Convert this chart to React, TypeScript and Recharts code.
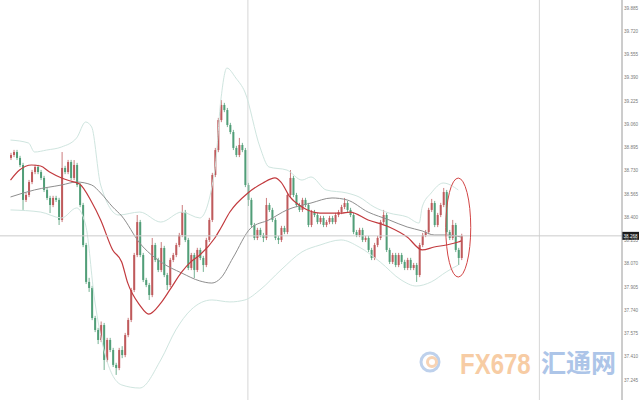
import React from 'react';
import {
  ComposedChart,
  Bar,
  Line,
  XAxis,
  YAxis,
  ReferenceLine,
  ReferenceDot,
} from 'recharts';

// candles: [open, high, low, close], one per slot starting at FIRST_SLOT
const candles: [number, number, number, number][] = [
  [38.821, 38.857, 38.806, 38.842], [38.842, 38.878, 38.827, 38.863], [38.863, 38.878, 38.806, 38.821],
  [38.821, 38.836, 38.756, 38.771], [38.771, 38.786, 38.452, 38.523], [38.523, 38.573, 38.508, 38.558],
  [38.558, 38.665, 38.543, 38.65], [38.65, 38.736, 38.635, 38.721], [38.721, 38.772, 38.706, 38.757],
  [38.757, 38.772, 38.706, 38.721], [38.721, 38.736, 38.664, 38.679], [38.679, 38.694, 38.579, 38.594],
  [38.594, 38.609, 38.522, 38.537], [38.537, 38.552, 38.43, 38.487], [38.487, 38.552, 38.472, 38.537],
  [38.537, 38.552, 38.508, 38.523], [38.523, 38.538, 38.345, 38.381], [38.381, 38.863, 38.366, 38.75],
  [38.75, 38.765, 38.706, 38.721], [38.721, 38.807, 38.706, 38.792], [38.792, 38.807, 38.664, 38.679],
  [38.679, 38.806, 38.664, 38.771], [38.771, 38.786, 38.614, 38.629], [38.629, 38.644, 38.472, 38.487],
  [38.487, 38.502, 38.188, 38.203], [38.203, 38.218, 37.926, 37.941], [37.941, 37.97, 37.87, 37.898],
  [37.898, 37.913, 37.67, 37.685], [37.685, 37.7, 37.585, 37.6], [37.6, 37.615, 37.5, 37.529],
  [37.529, 37.66, 37.514, 37.635], [37.635, 37.65, 37.316, 37.387], [37.387, 37.544, 37.372, 37.529],
  [37.529, 37.544, 37.443, 37.458], [37.458, 37.473, 37.337, 37.352], [37.352, 37.367, 37.281, 37.33],
  [37.33, 37.473, 37.315, 37.458], [37.458, 37.485, 37.4, 37.422], [37.422, 37.579, 37.407, 37.564],
  [37.564, 37.686, 37.549, 37.671], [37.671, 37.899, 37.656, 37.884], [37.884, 38.147, 37.869, 38.132],
  [38.132, 38.416, 38.117, 38.366], [38.366, 38.381, 38.117, 38.132], [38.132, 38.147, 37.94, 37.955],
  [37.955, 37.97, 37.904, 37.919], [37.919, 37.934, 37.813, 37.848], [37.848, 38.253, 37.833, 38.203],
  [38.203, 38.218, 38.082, 38.097], [38.097, 38.112, 38.011, 38.026], [38.026, 38.224, 38.011, 38.182],
  [38.182, 38.197, 37.975, 37.99], [37.99, 38.005, 37.884, 37.919], [37.919, 38.112, 37.904, 38.097],
  [38.097, 38.147, 38.082, 38.132], [38.132, 38.218, 38.117, 38.203], [38.203, 38.289, 38.188, 38.274],
  [38.274, 38.487, 38.259, 38.437], [38.437, 38.452, 38.224, 38.239], [38.239, 38.254, 38.025, 38.04],
  [38.04, 38.147, 38.025, 38.132], [38.132, 38.147, 37.969, 38.026], [38.026, 38.183, 38.011, 38.168],
  [38.168, 38.183, 38.096, 38.111], [38.111, 38.126, 38.012, 38.061], [38.061, 38.254, 38.046, 38.239],
  [38.239, 38.396, 38.224, 38.381], [38.381, 38.715, 38.366, 38.7], [38.7, 38.892, 38.685, 38.877],
  [38.877, 39.105, 38.862, 39.09], [39.09, 39.232, 39.075, 39.197], [39.197, 39.212, 39.146, 39.161],
  [39.161, 39.176, 39.04, 39.055], [39.055, 39.07, 38.99, 39.005], [39.005, 39.02, 38.877, 38.892],
  [38.892, 38.907, 38.827, 38.842], [38.842, 38.963, 38.827, 38.913], [38.913, 38.928, 38.862, 38.877],
  [38.877, 38.892, 38.614, 38.629], [38.629, 38.644, 38.48, 38.523], [38.523, 38.538, 38.33, 38.345],
  [38.345, 38.36, 38.238, 38.253], [38.253, 38.325, 38.238, 38.31], [38.31, 38.325, 38.259, 38.274],
  [38.274, 38.289, 38.224, 38.253], [38.253, 38.537, 38.238, 38.487], [38.487, 38.502, 38.437, 38.452],
  [38.452, 38.467, 38.366, 38.381], [38.381, 38.396, 38.238, 38.253], [38.253, 38.268, 38.21, 38.239],
  [38.239, 38.339, 38.224, 38.324], [38.324, 38.339, 38.28, 38.295], [38.295, 38.573, 38.28, 38.558],
  [38.558, 38.735, 38.543, 38.679], [38.679, 38.694, 38.543, 38.558], [38.558, 38.573, 38.472, 38.487],
  [38.487, 38.502, 38.437, 38.452], [38.452, 38.538, 38.437, 38.523], [38.523, 38.538, 38.472, 38.487],
  [38.487, 38.502, 38.33, 38.345], [38.345, 38.452, 38.33, 38.437], [38.437, 38.452, 38.401, 38.416],
  [38.416, 38.431, 38.351, 38.366], [38.366, 38.41, 38.351, 38.395], [38.395, 38.41, 38.33, 38.345],
  [38.345, 38.381, 38.33, 38.366], [38.366, 38.41, 38.351, 38.395], [38.395, 38.41, 38.351, 38.366],
  [38.366, 38.431, 38.351, 38.416], [38.416, 38.452, 38.401, 38.437], [38.437, 38.488, 38.422, 38.473],
  [38.473, 38.537, 38.458, 38.501], [38.501, 38.516, 38.437, 38.452], [38.452, 38.467, 38.401, 38.416],
  [38.416, 38.431, 38.28, 38.295], [38.295, 38.31, 38.259, 38.274], [38.274, 38.325, 38.259, 38.31],
  [38.31, 38.325, 38.224, 38.239], [38.239, 38.268, 38.224, 38.253], [38.253, 38.268, 38.153, 38.168],
  [38.168, 38.183, 38.096, 38.111], [38.111, 38.218, 38.096, 38.203], [38.203, 38.268, 38.188, 38.253],
  [38.253, 38.381, 38.238, 38.366], [38.366, 38.452, 38.351, 38.416], [38.416, 38.431, 38.153, 38.168],
  [38.168, 38.183, 38.068, 38.083], [38.083, 38.147, 38.068, 38.132], [38.132, 38.147, 38.046, 38.061],
  [38.061, 38.147, 38.046, 38.132], [38.132, 38.147, 38.068, 38.083], [38.083, 38.098, 38.025, 38.04],
  [38.04, 38.112, 38.025, 38.097], [38.097, 38.112, 38.025, 38.04], [38.04, 38.076, 38.025, 38.061],
  [38.061, 38.076, 37.941, 37.99], [37.99, 38.218, 37.975, 38.203], [38.203, 38.289, 38.188, 38.274],
  [38.274, 38.31, 38.259, 38.295], [38.295, 38.467, 38.28, 38.452], [38.452, 38.53, 38.437, 38.501],
  [38.501, 38.516, 38.33, 38.345], [38.345, 38.431, 38.33, 38.416], [38.416, 38.502, 38.401, 38.487],
  [38.487, 38.608, 38.472, 38.579], [38.579, 38.594, 38.28, 38.295], [38.295, 38.31, 38.238, 38.253],
  [38.253, 38.381, 38.238, 38.345], [38.345, 38.36, 38.153, 38.168], [38.168, 38.183, 38.061, 38.111],
  [38.111, 38.283, 38.096, 38.268],
];

// indicator lines: [slot, value]
const fastMa: [number, number][] = [
  [3, 38.664], [6, 38.735], [10, 38.771], [13, 38.764], [16, 38.721], [20, 38.679], [23, 38.657],
  [26, 38.636], [30, 38.508], [33, 38.381], [37, 38.168], [40, 38.083], [42, 37.934], [46, 37.777],
  [49, 37.713], [53, 37.791], [56, 37.884], [60, 38.012], [63, 38.083], [66, 38.132], [71, 38.253],
  [73, 38.324], [76, 38.437], [82, 38.572], [87, 38.643], [91, 38.679], [93, 38.65], [96, 38.544],
  [100, 38.473], [106, 38.43], [113, 38.43], [116, 38.437], [122, 38.381], [129, 38.331],
  [135, 38.26], [140, 38.168], [144, 38.189], [148, 38.203], [152, 38.224], [153, 38.232],
];
const slowMa: [number, number][] = [
  [3, 38.544], [11, 38.594], [20, 38.629], [25, 38.65], [30, 38.629], [33, 38.572], [37, 38.473],
  [40, 38.409], [46, 38.217], [53, 38.083], [60, 38.004], [66, 37.948], [70, 37.933], [73, 37.969],
  [77, 38.111], [83, 38.324], [89, 38.381], [95, 38.452], [103, 38.501], [110, 38.537], [115, 38.523],
  [122, 38.437], [129, 38.381], [135, 38.331], [140, 38.303], [144, 38.274], [148, 38.274], [153, 38.26],
];
const upperBand: [number, number][] = [
  [3, 38.948], [9, 38.927], [11, 38.863], [15, 38.877], [20, 38.899], [25, 38.963], [28, 39.076],
  [30, 39.041], [33, 38.629], [39, 38.416], [46, 38.437], [53, 38.366], [60, 38.437], [66, 38.395],
  [71, 38.735], [73, 39.232], [75, 39.459], [78, 39.388], [81, 39.289], [86, 38.899], [89, 38.757],
  [95, 38.735], [100, 38.664], [103, 38.686], [108, 38.594], [115, 38.572], [119, 38.544],
  [124, 38.473], [129, 38.43], [135, 38.402], [139, 38.359], [140, 38.473], [143, 38.572],
  [147, 38.643], [152, 38.594],
];
const lowerBand: [number, number][] = [
  [3, 38.452], [13, 38.437], [20, 38.395], [25, 38.466], [28, 38.345], [31, 37.813], [35, 37.387],
  [40, 37.21], [46, 37.188], [53, 37.387], [58, 37.6], [63, 37.742], [70, 37.813], [76, 37.799],
  [81, 37.813], [86, 37.884], [93, 38.026], [100, 38.154], [106, 38.203], [113, 38.239],
  [119, 38.189], [126, 38.083], [133, 37.955], [138, 37.912], [143, 37.941], [148, 38.012], [152, 38.061],
];

const yTicks = [
  37.245, 37.41, 37.575, 37.74, 37.905, 38.07, 38.235, 38.4, 38.565, 38.73, 38.895,
  39.06, 39.225, 39.39, 39.555, 39.72, 39.885,
];
const lastPrice = 38.268;
const sessionLines = [82, 179];
const markedSlot = 152;
const markedPrice = 38.327;

const SLOTS = 207;
const FIRST_SLOT = 3;

const toMap = (pts: [number, number][]) => new Map(pts.map(([s, v]) => [s, v]));
const fastMap = toMap(fastMa);
const slowMap = toMap(slowMa);
const upMap = toMap(upperBand);
const loMap = toMap(lowerBand);

const rows = Array.from({ length: SLOTS }, (_, i) => {
  const cd = candles[i - FIRST_SLOT];
  return {
    i,
    o: cd ? cd[0] : undefined,
    h: cd ? cd[1] : undefined,
    l: cd ? cd[2] : undefined,
    c: cd ? cd[3] : undefined,
    range: cd ? [cd[2], cd[1]] : undefined,
    fast: fastMap.get(i),
    slow: slowMap.get(i),
    upper: upMap.get(i),
    lower: loMap.get(i),
  };
});

const UP = '#b9494b';
const DOWN = '#3f946a';
const AXIS_FONT = 'Liberation Sans';

const Candle = (props: any) => {
  const { x, y, width, height, payload } = props;
  if (!payload || payload.o == null) return null;
  const { o, h, l, c } = payload;
  const top = Math.min(y, y + height);
  const span = Math.abs(height);
  const k = span / (h - l || 1);
  const yOf = (v: number) => top + (h - v) * k;
  const color = c >= o ? UP : DOWN;
  const bodyTop = yOf(Math.max(o, c));
  const bodyH = Math.max(1, Math.abs(yOf(o) - yOf(c)));
  const cx = x + width / 2;
  return (
    <g opacity={0.9}>
      <line x1={cx} x2={cx} y1={top} y2={top + span} stroke={color} strokeWidth={0.8} />
      <rect x={x} y={bodyTop} width={width} height={bodyH} fill={color} />
    </g>
  );
};

const PriceTag = (props: any) => {
  const { viewBox } = props;
  if (!viewBox) return null;
  const x = viewBox.x + viewBox.width;
  const y = viewBox.y;
  return (
    <g>
      <rect x={x} y={y - 4} width={17} height={8} fill="#1b1b1b" />
      <text x={x + 1.5} y={y + 1.7} fill="#fff" fontSize={4.6} fontFamily={AXIS_FONT}>
        {lastPrice.toFixed(3)}
      </text>
    </g>
  );
};

const Ellipse = (props: any) => (
  <ellipse cx={props.cx} cy={props.cy} rx={12.5} ry={49.5} fill="none" stroke="#d24545" strokeWidth={1} />
);

export default function App() {
  return (
    <div style={{ position: 'absolute', left: 0, top: 0, width: 640, height: 400, background: '#fff' }}>
      <ComposedChart
        width={640}
        height={400}
        data={rows}
        margin={{ top: 0, right: 0, bottom: 0, left: 0 }}
        barCategoryGap={0}
      >
        <XAxis dataKey="i" hide />
        <YAxis
          orientation="right"
          width={18}
          domain={[37.103, 39.942]}
          allowDataOverflow
          ticks={yTicks}
          interval={0}
          tickFormatter={(v: number) => v.toFixed(3)}
          tickLine={false}
          tickSize={0}
          tickMargin={2}
          axisLine={{ stroke: '#9a9a9a' }}
          tick={{ fontSize: 4.6, fill: '#7a7a7a', fontFamily: AXIS_FONT }}
        />
        {sessionLines.map((s) => (
          <ReferenceLine key={s} x={s} stroke="#d6d6d6" strokeWidth={1} />
        ))}
        <Line dataKey="upper" type="monotone" stroke="#cfe5df" strokeWidth={1} dot={false} connectNulls isAnimationActive={false} />
        <Line dataKey="lower" type="monotone" stroke="#cfe5df" strokeWidth={1} dot={false} connectNulls isAnimationActive={false} />
        <Line dataKey="slow" type="monotone" stroke="#8e8e8e" strokeWidth={1} dot={false} connectNulls isAnimationActive={false} />
        <Bar dataKey="range" barSize={2} shape={<Candle />} isAnimationActive={false} />
        <Line dataKey="fast" type="monotone" stroke="#c23a3e" strokeWidth={1.2} dot={false} connectNulls isAnimationActive={false} />
        <ReferenceLine y={lastPrice} stroke="#cccccc" strokeWidth={1} label={<PriceTag />} />
        <ReferenceDot x={markedSlot} y={markedPrice} shape={<Ellipse />} />
      </ComposedChart>
      <svg width={640} height={400} style={{ position: 'absolute', left: 0, top: 0, pointerEvents: 'none' }}>
        <g opacity={0.75}>
          <circle cx={430} cy={362} r={9} fill="none" stroke="#a9c2e6" strokeWidth={3} />
          <circle cx={432} cy={362} r={4.5} fill="none" stroke="#f5c59b" strokeWidth={3} />
        </g>
        <text transform="translate(460,374) scale(0.8,1)" fontSize={30} fontWeight="bold" fill="#f7cca4"
          fontFamily="Liberation Sans">FX678</text>
        <text x={541} y={372} fontSize={25} fontWeight="bold" fill="#adc5e8" fontFamily="Noto Sans CJK SC">汇通网</text>
      </svg>
    </div>
  );
}
